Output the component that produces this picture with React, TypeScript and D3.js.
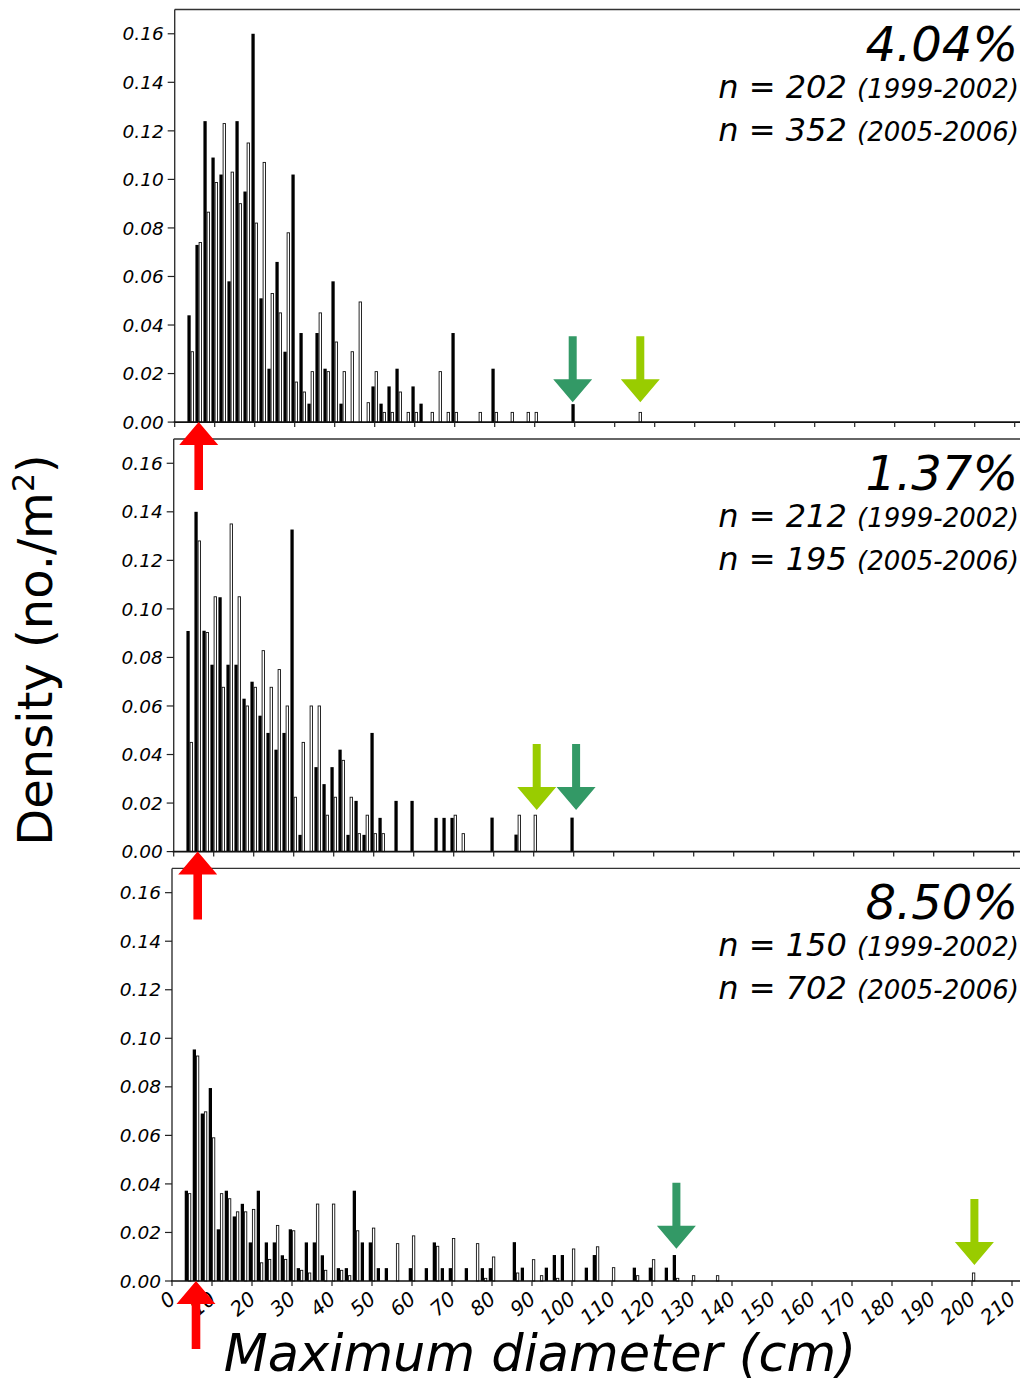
import React from 'react';
import * as d3 from 'd3';

// bin centre (cm) and density (no./m2); black bars = 1999-2002, white bars = 2005-2006
const top1999 = [[4,0.044],[6,0.073],[8,0.124],[10,0.109],[12,0.102],[14,0.058],[16,0.124],[18,0.095],[20,0.160],[22,0.051],[24,0.022],[26,0.066],[28,0.029],[30,0.102],[32,0.0367],[34,0.0076],[36,0.0367],[38,0.022],[40,0.058],[42,0.0076],[50,0.0147],[52,0.0076],[54,0.0147],[56,0.022],[60,0.0147],[62,0.0076],[70,0.0367],[80,0.022],[100,0.0074]];
const top2005 = [[4,0.029],[6,0.074],[8,0.0865],[10,0.0987],[12,0.123],[14,0.103],[16,0.090],[18,0.115],[20,0.082],[22,0.107],[24,0.053],[26,0.045],[28,0.078],[30,0.0165],[32,0.0124],[34,0.0208],[36,0.045],[38,0.0208],[40,0.033],[42,0.0208],[44,0.029],[46,0.0495],[48,0.008],[50,0.0208],[52,0.004],[54,0.004],[56,0.0124],[58,0.004],[60,0.004],[64,0.004],[66,0.0208],[68,0.004],[70,0.004],[76,0.004],[80,0.004],[84,0.004],[88,0.004],[90,0.004],[116,0.004]];

const mid1999 = [[4,0.0909],[6,0.140],[8,0.091],[10,0.077],[12,0.1048],[14,0.077],[16,0.077],[18,0.063],[20,0.070],[22,0.056],[24,0.0489],[26,0.042],[28,0.0489],[30,0.1327],[32,0.0069],[36,0.0348],[38,0.0278],[40,0.0348],[42,0.042],[44,0.0069],[46,0.0209],[48,0.0069],[50,0.0489],[52,0.0139],[56,0.0209],[60,0.0209],[66,0.0139],[68,0.0139],[70,0.0139],[80,0.014],[86,0.007],[100,0.014]];
const mid2005 = [[4,0.045],[6,0.128],[8,0.0903],[10,0.105],[12,0.0677],[14,0.135],[16,0.105],[18,0.060],[20,0.0677],[22,0.0828],[24,0.0677],[26,0.075],[28,0.060],[30,0.0224],[32,0.045],[34,0.060],[36,0.060],[38,0.015],[40,0.0224],[42,0.0376],[44,0.0224],[46,0.0074],[48,0.015],[50,0.0074],[52,0.0074],[70,0.015],[72,0.0074],[86,0.015],[90,0.015]];

const bot1999 = [[4,0.0372],[6,0.0954],[8,0.069],[10,0.0795],[12,0.0213],[14,0.0372],[16,0.0266],[18,0.0318],[20,0.0159],[22,0.0372],[24,0.0159],[26,0.0159],[28,0.0106],[30,0.0213],[32,0.0053],[34,0.0159],[36,0.0159],[38,0.0106],[42,0.0053],[44,0.0053],[46,0.0372],[48,0.0159],[50,0.0159],[52,0.0053],[54,0.0053],[60,0.0053],[64,0.0053],[66,0.0159],[68,0.0053],[70,0.0053],[74,0.0053],[78,0.0053],[80,0.0053],[86,0.016],[88,0.0055],[94,0.0055],[96,0.0107],[98,0.0107],[104,0.0055],[106,0.0107],[116,0.0055],[120,0.0055],[124,0.0055],[126,0.0107]];
const bot2005 = [[4,0.036],[6,0.0927],[8,0.0697],[10,0.059],[12,0.036],[14,0.0339],[16,0.0285],[18,0.0285],[20,0.0295],[22,0.0075],[24,0.0089],[26,0.0229],[28,0.0089],[30,0.0207],[32,0.0044],[34,0.0033],[36,0.0317],[38,0.0044],[40,0.0317],[42,0.0044],[44,0.0022],[46,0.0207],[50,0.0218],[56,0.0154],[60,0.0186],[66,0.0143],[70,0.0175],[76,0.0154],[78,0.0011],[80,0.0099],[86,0.0033],[90,0.0088],[92,0.0022],[96,0.0011],[100,0.0132],[106,0.0141],[110,0.0055],[116,0.0022],[120,0.0088],[126,0.0011],[130,0.0022],[136,0.0022],[200,0.0033]];

const percents = ['4.04%', '1.37%', '8.50%'];
const nOld = [202, 212, 150];
const nNew = [352, 195, 702];

// down arrows: [diameter, density at tip, kind]
const arrowsTop = [[99.5, 0.0082, 'dark'], [116.4, 0.0082, 'light']];
const arrowsMid = [[90.75, 0.0171, 'light'], [100.6, 0.0171, 'dark']];
const arrowsBot = [[126.1, 0.0133, 'dark'], [200.6, 0.0066, 'light']];
const redArrowAt = 6;

const yTicks = [0, 0.02, 0.04, 0.06, 0.08, 0.10, 0.12, 0.14, 0.16];
const xTicks = d3.range(0, 211, 10);

const panels = [
  { black: top1999, white: top2005, arrows: arrowsTop },
  { black: mid1999, white: mid2005, arrows: arrowsMid },
  { black: bot1999, white: bot2005, arrows: arrowsBot },
];

const W = 1021, H = 1385;
const panelTops = [9.5, 439, 868.4];
const panelLefts = [174.7, 173.7, 172];
const panelH = 412.6;
const rightEdge = 1020;
const arrowColor = { dark: '#339966', light: '#99cc00' };
const font = '"DejaVu Sans", sans-serif';

function downArrow(tx, ty) {
  const p = d3.path();
  p.moveTo(tx - 4, ty - 66);
  p.lineTo(tx + 4, ty - 66);
  p.lineTo(tx + 4, ty - 23);
  p.lineTo(tx + 19.5, ty - 23);
  p.lineTo(tx, ty);
  p.lineTo(tx - 19.5, ty - 23);
  p.lineTo(tx - 4, ty - 23);
  p.closePath();
  return p.toString();
}

function upArrow(tx, ty) {
  const p = d3.path();
  p.moveTo(tx, ty);
  p.lineTo(tx + 19.5, ty + 23);
  p.lineTo(tx + 4.3, ty + 23);
  p.lineTo(tx + 4.3, ty + 68);
  p.lineTo(tx - 4.3, ty + 68);
  p.lineTo(tx - 4.3, ty + 23);
  p.lineTo(tx - 19.5, ty + 23);
  p.closePath();
  return p.toString();
}

function Panel({ i }) {
  const d = panels[i];
  const top = panelTops[i];
  const left = panelLefts[i];
  const x = d3.scaleLinear().domain([0, 210]).range([left, left + 840]);
  const y = d3.scaleLinear().domain([0, 0.17]).range([top + panelH, top]);
  const y0 = y(0);
  const bw = (x(1) - x(0)) * 0.82;
  const last = i === 2;
  const fmt = d3.format('.2f');
  return (
    <g>
      {d.black.map(([c, v]) => (
        <rect key={'b' + c} x={x(c) - bw} y={y(v)} width={bw} height={y0 - y(v)} fill="#000" />
      ))}
      {d.white.map(([c, v]) => (
        <rect key={'w' + c} x={x(c) + 0.4} y={y(v)} width={bw - 0.9} height={y0 - y(v)}
          fill="#fff" stroke="#111" strokeWidth={0.9} />
      ))}
      <line x1={left} x2={rightEdge} y1={top} y2={top} stroke="#333" strokeWidth={1.4} />
      <line x1={left} x2={left} y1={top} y2={y0} stroke="#333" strokeWidth={1.4} />
      <line x1={left - 1} x2={rightEdge} y1={y0} y2={y0} stroke="#111" strokeWidth={1.6} />
      {yTicks.map(t => (
        <g key={t}>
          <line x1={left - 7} x2={left} y1={y(t)} y2={y(t)} stroke="#222" strokeWidth={1.2} />
          <text x={left - 11} y={y(t)} dy="0.36em" textAnchor="end" fontSize={18.5}
            fontStyle="italic" fontFamily={font}>{fmt(t)}</text>
        </g>
      ))}
      {xTicks.map(t => (
        <line key={t} x1={x(t)} x2={x(t)} y1={y0} y2={y0 + 5} stroke="#222" strokeWidth={1.2} />
      ))}
      {last && xTicks.map(t => (
        <text key={'l' + t} transform={`translate(${x(t) + 5},${y0 + 20}) rotate(-40)`}
          textAnchor="end" fontSize={20} fontStyle="italic" fontFamily={font}>{t}</text>
      ))}
      <text x={1018} y={top + 51} textAnchor="end" fontSize={48} fontStyle="italic" fontFamily={font}>
        {percents[i]}
      </text>
      <text x={1019} y={top + 88} textAnchor="end" fontStyle="italic" fontFamily={font}>
        <tspan fontSize={32}>{`n = ${nOld[i]} `}</tspan>
        <tspan fontSize={26}>(1999-2002)</tspan>
      </text>
      <text x={1019} y={top + 131} textAnchor="end" fontStyle="italic" fontFamily={font}>
        <tspan fontSize={32}>{`n = ${nNew[i]} `}</tspan>
        <tspan fontSize={26}>(2005-2006)</tspan>
      </text>
      {d.arrows.map(([a, v, k]) => (
        <path key={a} d={downArrow(x(a), y(v))} fill={arrowColor[k]} />
      ))}
    </g>
  );
}

export default function App() {
  const reds = panelTops.map((top, i) => {
    const x = d3.scaleLinear().domain([0, 210]).range([panelLefts[i], panelLefts[i] + 840]);
    return upArrow(x(redArrowAt), top + panelH);
  });
  return (
    <svg width={W} height={H} style={{ position: 'absolute', left: 0, top: 0, background: '#fff' }}>
      <rect width={W} height={H} fill="#fff" />
      {panels.map((_, i) => <Panel key={i} i={i} />)}
      {reds.map((p, i) => <path key={i} d={p} fill="#ff0000" />)}
      <text transform="translate(52,650) rotate(-90)" textAnchor="middle" fontSize={48} fontFamily={font}>
        Density (no./m<tspan fontSize={30} dy="-18">2</tspan><tspan dy="18">)</tspan>
      </text>
      <text x={540} y={1371} textAnchor="middle" fontSize={51} fontStyle="italic" fontFamily={font}>
        Maximum diameter (cm)
      </text>
    </svg>
  );
}
